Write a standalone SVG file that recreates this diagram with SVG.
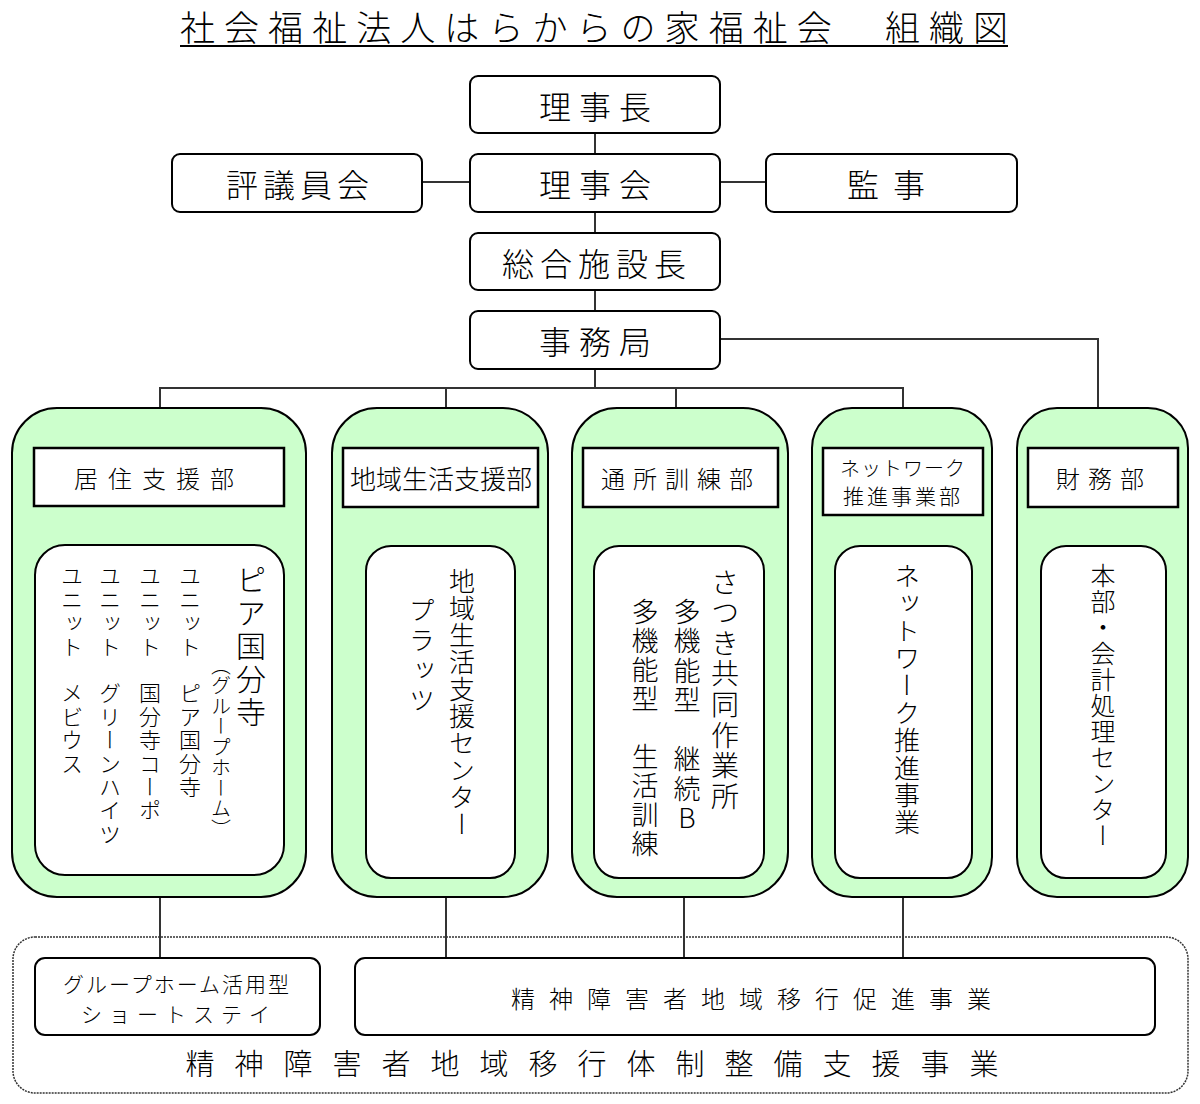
<svg xmlns="http://www.w3.org/2000/svg" width="1200" height="1104" viewBox="0 0 1200 1104">
<style>
text{font-family:"Noto Sans CJK JP","Noto Sans CJK SC",sans-serif;font-weight:300;fill:#000}
.box{fill:#fff;stroke:#000;stroke-width:2}
.green{fill:#ccffcc;stroke:#000;stroke-width:2}
.hdr{fill:#fff;stroke:#000;stroke-width:2.5}
.conn line,.conn path{stroke:#333;stroke-width:2;fill:none}
.c{text-anchor:middle;dominant-baseline:central}
.v{writing-mode:vertical-rl}
.up{text-orientation:upright}
.big{font-size:32px;letter-spacing:8px}
</style>
<rect width="1200" height="1104" fill="#fff"/>
<g id="title">
<text x="180" y="41" font-size="35" textLength="828" lengthAdjust="spacing">社会福祉法人はらからの家福祉会　組織図</text>
<line x1="180" y1="46" x2="1008" y2="46" stroke="#000" stroke-width="2"/>
</g>
<g class="conn" id="connectors">
<line x1="595" y1="133" x2="595" y2="154"/>
<line x1="422" y1="182" x2="470" y2="182"/>
<line x1="720" y1="182" x2="766" y2="182"/>
<line x1="595" y1="212" x2="595" y2="233"/>
<line x1="595" y1="290" x2="595" y2="311"/>
<line x1="595" y1="369" x2="595" y2="388"/>
<path d="M720 339H1098V408"/>
<line x1="159" y1="388" x2="904" y2="388"/>
<line x1="160" y1="388" x2="160" y2="408"/>
<line x1="446" y1="388" x2="446" y2="408"/>
<line x1="676" y1="388" x2="676" y2="408"/>
<line x1="903" y1="388" x2="903" y2="408"/>
<line x1="160" y1="897" x2="160" y2="958"/>
<line x1="446" y1="897" x2="446" y2="958"/>
<line x1="684" y1="897" x2="684" y2="958"/>
<line x1="903" y1="897" x2="903" y2="958"/>
</g>
<g id="rijicho"><rect class="box" x="470" y="76" width="250" height="57" rx="8"/><text class="c big" x="599" y="105">理事長</text></g>
<g id="rijikai"><rect class="box" x="470" y="154" width="250" height="58" rx="8"/><text class="c big" x="599" y="183">理事会</text></g>
<g id="hyogiinkai"><rect class="box" x="172" y="154" width="250" height="58" rx="8"/><text class="c" x="300" y="183" font-size="32" letter-spacing="5">評議員会</text></g>
<g id="kanji"><rect class="box" x="766" y="154" width="251" height="58" rx="8"/><text class="c" x="893" y="183" font-size="32" letter-spacing="14">監事</text></g>
<g id="sogoshisetsucho"><rect class="box" x="470" y="233" width="250" height="57" rx="8"/><text class="c" x="597" y="262" font-size="32" letter-spacing="6">総合施設長</text></g>
<g id="jimukyoku"><rect class="box" x="470" y="311" width="250" height="58" rx="8"/><text class="c big" x="599" y="340">事務局</text></g>

<g id="kyoju">
<rect class="green" x="12" y="408" width="294" height="489" rx="45"/>
<rect class="hdr" x="34" y="448" width="250" height="58"/>
<text class="c" x="159" y="477" font-size="24" letter-spacing="10">居住支援部</text>
<rect class="box" x="35" y="545" width="249" height="330" rx="30"/>
<text class="v" x="251" y="565" font-size="30" letter-spacing="3">ピア国分寺</text>
<text class="v" x="221" y="655" font-size="20" letter-spacing="0.5">（グループホーム）</text>
<text class="v" x="190" y="565" font-size="22" letter-spacing="1.4">ユニット　ピア国分寺</text>
<text class="v" x="150" y="565" font-size="22" letter-spacing="1.4">ユニット　国分寺コーポ</text>
<text class="v" x="110" y="565" font-size="22" letter-spacing="1.4">ユニット　グリーンハイツ</text>
<text class="v" x="72" y="565" font-size="22" letter-spacing="1.4">ユニット　メビウス</text>
</g>
<g id="chiiki">
<rect class="green" x="332" y="408" width="216" height="489" rx="45"/>
<rect class="hdr" x="343" y="448" width="195" height="59"/>
<text class="c" x="441" y="477" font-size="26">地域生活支援部</text>
<rect class="box" x="366" y="546" width="149" height="332" rx="25"/>
<text class="v" x="462" y="568" font-size="26" letter-spacing="1">地域生活支援センター</text>
<text class="v" x="422" y="597" font-size="26" letter-spacing="4">プラッツ</text>
</g>
<g id="tsusho">
<rect class="green" x="572" y="408" width="216" height="489" rx="45"/>
<rect class="hdr" x="583" y="448" width="195" height="59"/>
<text class="c" x="681" y="477" font-size="24" letter-spacing="8">通所訓練部</text>
<rect class="box" x="594" y="546" width="170" height="332" rx="25"/>
<text class="v" x="725" y="568" font-size="28" letter-spacing="2.6">さつき共同作業所</text>
<text class="v up" x="687" y="598" font-size="27" letter-spacing="2.5">多機能型　継続B</text>
<text class="v" x="645" y="598" font-size="27" letter-spacing="2">多機能型　生活訓練</text>
</g>
<g id="network">
<rect class="green" x="812" y="408" width="180" height="489" rx="40"/>
<rect class="hdr" x="823" y="448" width="160" height="67"/>
<text class="c" x="903" y="467" font-size="20" letter-spacing="1">ネットワーク</text>
<text class="c" x="903" y="495" font-size="21" letter-spacing="3">推進事業部</text>
<rect class="box" x="835" y="546" width="137" height="332" rx="25"/>
<text class="v" x="907" y="563" font-size="26" letter-spacing="1.4">ネットワーク推進事業</text>
</g>
<g id="zaimu">
<rect class="green" x="1017" y="408" width="171" height="489" rx="40"/>
<rect class="hdr" x="1028" y="448" width="150" height="59"/>
<text class="c" x="1104" y="477" font-size="24" letter-spacing="8">財務部</text>
<rect class="box" x="1041" y="546" width="125" height="332" rx="25"/>
<text class="v" x="1103" y="563" font-size="25" letter-spacing="1">本部・会計処理センター</text>
</g>
<g id="taisei">
<rect x="13" y="937" width="1175" height="156" rx="22" fill="none" stroke="#333" stroke-width="1.5" stroke-dasharray="2 1"/>
<text class="c" x="602" y="1062" font-size="29" letter-spacing="20">精神障害者地域移行体制整備支援事業</text>
</g>
<g id="shortstay">
<rect class="box" x="35" y="958" width="285" height="77" rx="10"/>
<text class="c" x="177" y="983" font-size="21" letter-spacing="2">グループホーム活用型</text>
<text class="c" x="179" y="1013" font-size="21" letter-spacing="7">ショートステイ</text>
</g>
<g id="sokushin">
<rect class="box" x="355" y="958" width="800" height="77" rx="10"/>
<text class="c" x="758" y="997" font-size="24" letter-spacing="14">精神障害者地域移行促進事業</text>
</g>
</svg>
